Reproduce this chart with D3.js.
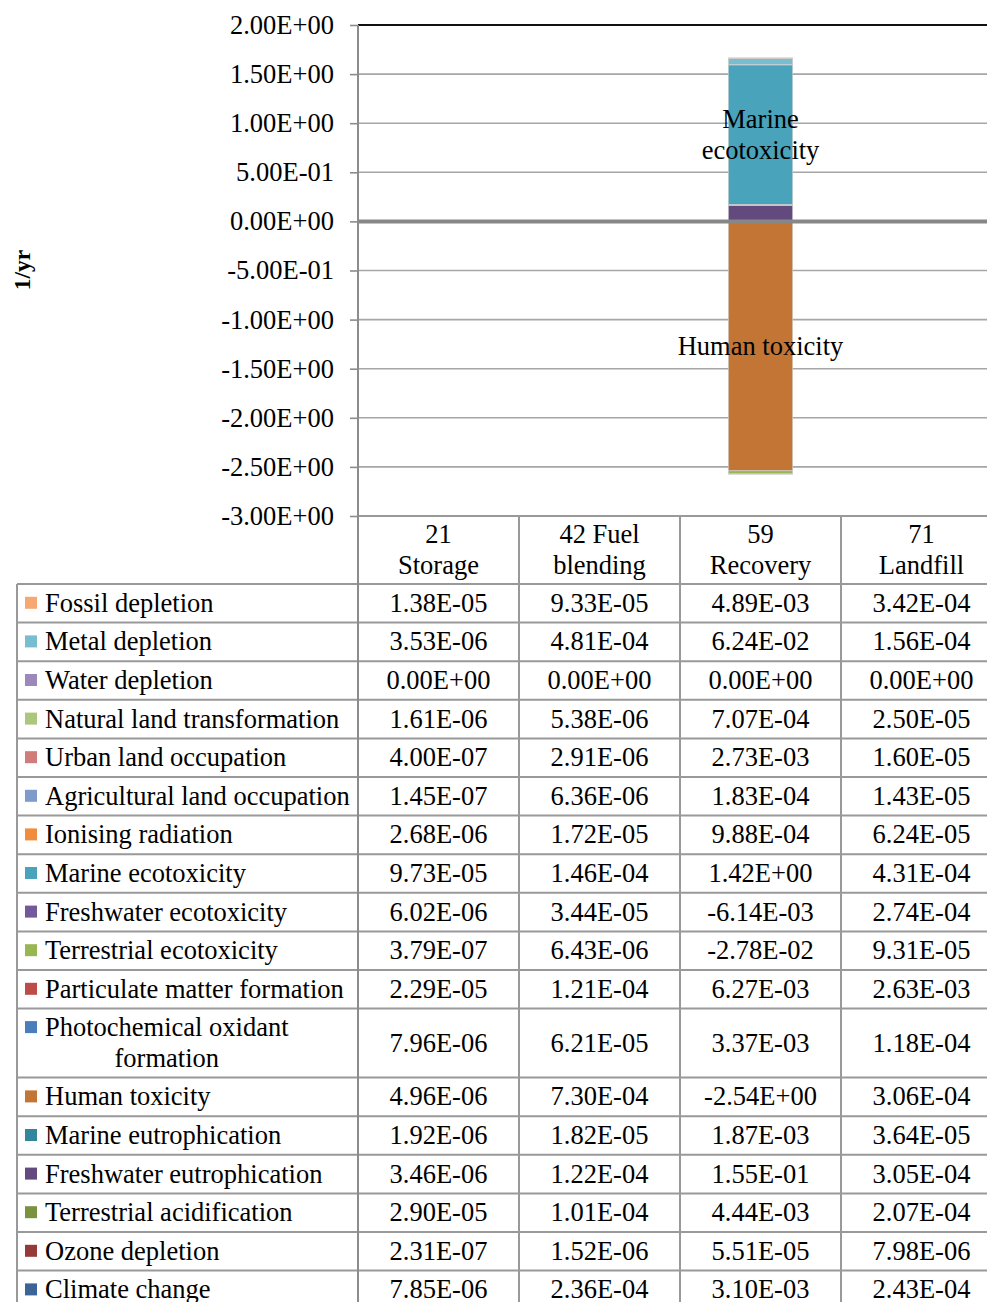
<!DOCTYPE html>
<html>
<head>
<meta charset="utf-8">
<script src="https://cdn.jsdelivr.net/npm/d3@7"></script>
<style>
  html, body { margin: 0; padding: 0; background: #fff; }
  svg { display: block; font-family: "Liberation Serif", "Times New Roman", serif; }
</style>
</head>
<body>
<svg id="chart" width="987" height="1302"></svg>
<script>
// Impact categories, in data-table order (top row first)
const seriesNames = [
  "Fossil depletion", "Metal depletion", "Water depletion", "Natural land transformation",
  "Urban land occupation", "Agricultural land occupation", "Ionising radiation",
  "Marine ecotoxicity", "Freshwater ecotoxicity", "Terrestrial ecotoxicity",
  "Particulate matter formation", "Photochemical oxidant formation", "Human toxicity",
  "Marine eutrophication", "Freshwater eutrophication", "Terrestrial acidification",
  "Ozone depletion", "Climate change"
];
const seriesColors = [
  "#f7a871", "#79bdd0", "#9c89bb", "#adc67e", "#cf7c7a", "#7d9bcb", "#ef8c3e",
  "#48a3bb", "#72599b", "#98b752", "#bd4b48", "#4a7ebb", "#c37535",
  "#32879c", "#624a7e", "#79923e", "#953a38", "#3c6496"
];
// Process categories (two-line headers)
const categories = ["21 Storage", "42 Fuel blending", "59 Recovery", "71 Landfill"];
const categoryLines = [["21", "Storage"], ["42 Fuel", "blending"], ["59", "Recovery"], ["71", "Landfill"]];

// Values per category, same order as seriesNames (1/yr)
const storage = [1.38e-5, 3.53e-6, 0, 1.61e-6, 4.00e-7, 1.45e-7, 2.68e-6, 9.73e-5, 6.02e-6, 3.79e-7,
  2.29e-5, 7.96e-6, 4.96e-6, 1.92e-6, 3.46e-6, 2.90e-5, 2.31e-7, 7.85e-6];
const fuelBlending = [9.33e-5, 4.81e-4, 0, 5.38e-6, 2.91e-6, 6.36e-6, 1.72e-5, 1.46e-4, 3.44e-5, 6.43e-6,
  1.21e-4, 6.21e-5, 7.30e-4, 1.82e-5, 1.22e-4, 1.01e-4, 1.52e-6, 2.36e-4];
const recovery = [4.89e-3, 6.24e-2, 0, 7.07e-4, 2.73e-3, 1.83e-4, 9.88e-4, 1.42, -6.14e-3, -2.78e-2,
  6.27e-3, 3.37e-3, -2.54, 1.87e-3, 1.55e-1, 4.44e-3, 5.51e-5, 3.10e-3];
const landfill = [3.42e-4, 1.56e-4, 0, 2.50e-5, 1.60e-5, 1.43e-5, 6.24e-5, 4.31e-4, 2.74e-4, 9.31e-5,
  2.63e-3, 1.18e-4, 3.06e-4, 3.64e-5, 3.05e-4, 2.07e-4, 7.98e-6, 2.43e-4];

// Y axis ticks
const yTickValues = [2, 1.5, 1, 0.5, 0, -0.5, -1, -1.5, -2, -2.5, -3];
const yTickLabels = ["2.00E+00", "1.50E+00", "1.00E+00", "5.00E-01", "0.00E+00", "-5.00E-01",
  "-1.00E+00", "-1.50E+00", "-2.00E+00", "-2.50E+00", "-3.00E+00"];

// Series whose names are written on the bar segments
const labelledSeries = [["Marine", "ecotoxicity"], ["Human toxicity"]];
const labelledSeriesNames = ["Marine ecotoxicity", "Human toxicity"];

const columns = [storage, fuelBlending, recovery, landfill];

// Scientific format like 1.38E-05
function sci(v) {
  const [m, e] = v.toExponential(2).split("e");
  const n = parseInt(e, 10);
  return m + "E" + (n < 0 ? "-" : "+") + String(Math.abs(n)).padStart(2, "0");
}

const svg = d3.select("#chart");
const FONT = 26.5;
const GRID = "#a6a6a6";
const LINE = "#999999";
const DY = "0.32em";

const plotLeft = 358, plotTop = 25, plotBottom = 516;
const colStep = 161;
const x = d3.scaleBand().domain(categories).range([plotLeft, plotLeft + colStep * categories.length]).padding(0);
const y = d3.scaleLinear().domain([-3, 2]).range([plotBottom, plotTop]);
const barW = x.bandwidth() * 0.4;

// Gridlines
svg.append("g").selectAll("line").data(yTickValues.filter(v => v !== 0 && v !== 2 && v !== -3))
  .join("line")
  .attr("x1", plotLeft).attr("x2", 987)
  .attr("y1", d => y(d)).attr("y2", d => y(d))
  .attr("stroke", GRID).attr("stroke-width", 1.6);

// Stacked bars (first series in the stack is the bottom row of the table)
const stackKeys = seriesNames.slice().reverse();
const rows = categories.map((c, i) => {
  const o = { category: c };
  seriesNames.forEach((s, j) => { o[s] = columns[i][j]; });
  return o;
});
const stacked = d3.stack().keys(stackKeys).offset(d3.stackOffsetDiverging)(rows);
const color = d3.scaleOrdinal().domain(seriesNames).range(seriesColors);

svg.append("g").selectAll("g").data(stacked).join("g")
  .attr("fill", d => color(d.key))
  .selectAll("rect").data(d => d).join("rect")
  .attr("x", d => x(d.data.category) + (x.bandwidth() - barW) / 2)
  .attr("width", barW)
  .attr("y", d => y(Math.max(d[0], d[1])))
  .attr("height", d => Math.abs(y(d[0]) - y(d[1])))
  .attr("stroke", "#d0d0d0").attr("stroke-width", 0.6);

// Zero axis line
svg.append("line")
  .attr("x1", plotLeft).attr("x2", 987).attr("y1", y(0)).attr("y2", y(0))
  .attr("stroke", "#878787").attr("stroke-width", 4);

// Top border of the plot area
svg.append("line")
  .attr("x1", plotLeft).attr("x2", 987).attr("y1", plotTop).attr("y2", plotTop)
  .attr("stroke", "#111").attr("stroke-width", 2);

// Segment name labels on the Recovery bar
labelledSeriesNames.forEach((name, k) => {
  const layer = stacked.find(s => s.key === name);
  const seg = layer[categories.indexOf("59 Recovery")];
  const cy = y((seg[0] + seg[1]) / 2);
  const lines = labelledSeries[k];
  const lh = 31;
  const t = svg.append("text")
    .attr("text-anchor", "middle").attr("font-size", FONT).attr("fill", "#000");
  lines.forEach((ln, i) => {
    t.append("tspan")
      .attr("x", x("59 Recovery") + x.bandwidth() / 2)
      .attr("y", cy + (i - (lines.length - 1) / 2) * lh)
      .attr("dy", DY)
      .text(ln);
  });
});

// Y axis
const yAxis = d3.axisLeft(y).tickValues(yTickValues)
  .tickFormat((d, i) => yTickLabels[i]).tickSize(8).tickPadding(16);
const ya = svg.append("g").attr("transform", `translate(${plotLeft},0)`).call(yAxis);
ya.select(".domain").remove();
ya.selectAll(".tick line").attr("stroke", "#8c8c8c").attr("stroke-width", 1.6);
ya.selectAll(".tick text").attr("font-size", FONT).attr("fill", "#000").attr("dy", DY)
  .attr("font-family", "Liberation Serif, Times New Roman, serif");

// Axis title
svg.append("text")
  .attr("transform", "translate(30,270) rotate(-90)")
  .attr("text-anchor", "middle").attr("font-size", 23.5).attr("font-weight", "bold")
  .text("1/yr");

// ---- Data table ----
const tableLeft = 17;
const headerTop = plotBottom, headerBottom = 584;
const rowH = 38.6, tallRowH = 69;
const tallRow = "Photochemical oxidant formation";
const rowTops = [];
let yy = headerBottom;
seriesNames.forEach(s => { rowTops.push(yy); yy += (s === tallRow ? tallRowH : rowH); });
const tableBottom = yy;

const tg = svg.append("g");
// Header line
tg.append("line").attr("x1", plotLeft).attr("x2", 987).attr("y1", headerTop).attr("y2", headerTop)
  .attr("stroke", LINE).attr("stroke-width", 2);
// Row separators
tg.selectAll("line.row").data(rowTops.concat([tableBottom])).join("line").attr("class", "row")
  .attr("x1", tableLeft).attr("x2", 987).attr("y1", d => d).attr("y2", d => d)
  .attr("stroke", LINE).attr("stroke-width", 2);
// Left table border
tg.append("line").attr("x1", tableLeft).attr("x2", tableLeft).attr("y1", headerBottom).attr("y2", 1302)
  .attr("stroke", LINE).attr("stroke-width", 2);
// Value axis / first column border
tg.append("line").attr("x1", plotLeft).attr("x2", plotLeft).attr("y1", plotTop).attr("y2", 1302)
  .attr("stroke", "#8c8c8c").attr("stroke-width", 2);
// Column separators
tg.selectAll("line.col").data(categories.slice(1)).join("line").attr("class", "col")
  .attr("x1", d => x(d)).attr("x2", d => x(d)).attr("y1", headerTop).attr("y2", 1302)
  .attr("stroke", LINE).attr("stroke-width", 2);
tg.append("line").attr("x1", x.range()[1]).attr("x2", x.range()[1]).attr("y1", headerTop).attr("y2", 1302)
  .attr("stroke", LINE).attr("stroke-width", 2);

// Category headers
categories.forEach((c, i) => {
  const t = tg.append("text").attr("text-anchor", "middle").attr("font-size", FONT);
  categoryLines[i].forEach((ln, j) => {
    t.append("tspan").attr("x", x(c) + x.bandwidth() / 2)
      .attr("y", 535 + j * 31).attr("dy", DY).text(ln);
  });
});

// Legend keys, names and values
seriesNames.forEach((s, r) => {
  const top = rowTops[r];
  const h = s === tallRow ? tallRowH : rowH;
  const firstLineY = s === tallRow ? top + 19 : top + h / 2;
  tg.append("rect").attr("x", 25).attr("y", firstLineY - 6.5).attr("width", 12).attr("height", 12)
    .attr("fill", color(s));
  if (s === tallRow) {
    const t1 = tg.append("text").attr("x", 45).attr("y", firstLineY).attr("dy", DY)
      .attr("font-size", FONT).text("Photochemical oxidant");
    const w = t1.node().getComputedTextLength();
    tg.append("text").attr("x", 45 + w / 2).attr("y", firstLineY + 31).attr("dy", DY)
      .attr("text-anchor", "middle").attr("font-size", FONT).text("formation");
  } else {
    tg.append("text").attr("x", 45).attr("y", firstLineY).attr("dy", DY)
      .attr("font-size", FONT).text(s);
  }
  categories.forEach((c, i) => {
    tg.append("text").attr("x", x(c) + x.bandwidth() / 2).attr("y", top + h / 2).attr("dy", DY)
      .attr("text-anchor", "middle").attr("font-size", FONT).text(sci(columns[i][r]));
  });
});
</script>
</body>
</html>
